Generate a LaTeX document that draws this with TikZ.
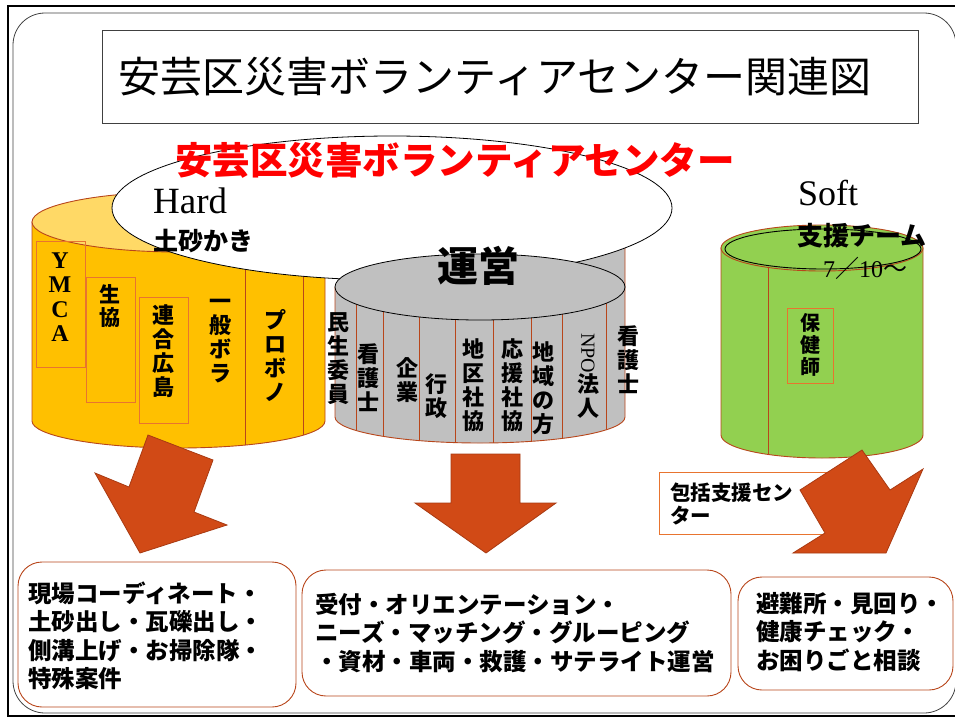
\documentclass[tikz,border=0pt]{standalone}
\usepackage{fontspec}
\setmainfont{Liberation Serif}
\newfontfamily\jp{Noto Sans CJK JP}
\usetikzlibrary{shapes.geometric}
\definecolor{rb}{HTML}{B8461B}
\definecolor{orng}{HTML}{E8742F}
\definecolor{arrowc}{HTML}{D14A16}
\definecolor{arrowline}{HTML}{A83A12}
\definecolor{yel}{HTML}{FFC000}
\definecolor{yeltop}{HTML}{FFD966}
\definecolor{grn}{HTML}{92D050}
\definecolor{gry}{HTML}{C0C0C0}
\definecolor{redtxt}{HTML}{FF0000}
\tikzset{
  vtext/.style={font=\jp\bfseries\fontsize{22}{24}\selectfont, align=center, inner sep=0pt},
  orbox/.style={draw=orng, line width=0.8pt, inner sep=0pt},
  divline/.style={draw=rb, line width=1pt},
  blockarrow/.style={fill=arrowc, draw=arrowline, line width=0.8pt, line join=miter},
  resbox/.style={draw=rb, line width=0.9pt, fill=white, rounded corners=24pt, inner sep=0pt},
  btext/.style={font=\jp\bfseries\fontsize{23.5}{28.5}\selectfont, align=left, anchor=west, inner sep=0pt}
}
\begin{document}
\begin{tikzpicture}[x=1pt,y=-1pt]
\useasboundingbox (0,0) rectangle (955,720);
\clip (0,0) rectangle (955,720);
% frame
\draw[line width=2.5pt] (8,6) rectangle (980,716);
\draw[line width=0.8pt, draw=black!75, rounded corners=32pt] (13,13) rectangle (956,713);
% title
\node[draw=black!75, line width=0.8pt, minimum width=816pt, minimum height=93pt, inner sep=0pt] (titlebox) at (510,76.5) {};
\node[font=\jp\fontsize{42}{42}\selectfont, inner sep=0pt] (title) at (495,77) {安芸区災害ボランティアセンター関連図};

% yellow cylinder
\path[fill=yel, draw=rb, line width=0.9pt] (32,222) -- (32,421) arc[start angle=180, end angle=0, x radius=146.5, y radius=27] -- (325,222) -- cycle;
\begin{scope}
\clip (32,222) -- (32,421) arc[start angle=180, end angle=0, x radius=146.5, y radius=27] -- (325,222) -- cycle;
\draw[divline] (245,250) -- (245,470);
\draw[divline] (303,250) -- (303,470);
\end{scope}
\draw[fill=yeltop, draw=rb, line width=0.9pt] (178.5,222) ellipse[x radius=146.5, y radius=30];
\node[orbox, minimum width=49pt, minimum height=126pt] (ymcabox) at (60.5,304) {};
\node[orbox, minimum width=49pt, minimum height=125pt] (seikyobox) at (110.5,339.5) {};
\node[orbox, minimum width=49pt, minimum height=126pt] (rengobox) at (163.5,360) {};
\node[vtext, font=\bfseries\fontsize{24}{24.5}\selectfont] (ymca) at (60,297) {Y\\M\\C\\A};
\node[vtext, font=\jp\bfseries\fontsize{21}{23}\selectfont] (seikyo) at (110,306) {生\\協};
\node[vtext] (rengo) at (163,351) {連\\合\\広\\島};
\node[vtext] (ippan) at (220,341) {一\\般\\ボ\\ラ};
\node[vtext] (probono) at (275,356) {プ\\ロ\\ボ\\ノ};

% gray cylinder body
\path[fill=gry, draw=rb, line width=0.9pt] (335,287) -- (335,417) arc[start angle=180, end angle=0, x radius=145, y radius=26] -- (625,240) -- (480,240) -- (480,287) -- cycle;
\begin{scope}
\clip (335,287) -- (335,417) arc[start angle=180, end angle=0, x radius=145, y radius=26] -- (625,240) -- (335,240) -- cycle;
\foreach \xx in {356,383,419,455,493,531,562,606} {
  \draw[divline] (\xx,280) -- (\xx,460);
}
\end{scope}
\node[vtext] (minsei) at (338,359) {民\\生\\委\\員};
\node[vtext] (kango1) at (368,378) {看\\護\\士};
\node[vtext] (kigyo) at (407,380) {企\\業};
\node[vtext] (gyosei) at (436,396) {行\\政};
\node[vtext] (chiku) at (473,385) {地\\区\\社\\協};
\node[vtext] (ouen) at (512,385) {応\\援\\社\\協};
\node[vtext] (chiiki) at (543,388) {地\\域\\の\\方};
\node[vtext] (npo) at (588,376) {\rotatebox{-90}{\rmfamily\mdseries\fontsize{20}{20}\selectfont NPO}\\法\\人};
\node[vtext] (kango2) at (628,360) {看\\護\\士};

% white ellipse (Hard)
\node[ellipse, draw=black, line width=0.8pt, fill=white, minimum width=560pt, minimum height=144pt, inner sep=0pt] (hardell) at (392,208) {};
\node[anchor=base west, font=\fontsize{37}{37}\selectfont, inner sep=0pt] (hard) at (153,213) {Hard};
\node[font=\jp\bfseries\fontsize{25}{25}\selectfont, inner sep=0pt] (dosha) at (203,241) {土砂かき};
\node[font=\jp\bfseries\fontsize{37.5}{37.5}\selectfont, text=redtxt, inner sep=0pt] (redtitle) at (455,160) {安芸区災害ボランティアセンター};

% gray top ellipse
\node[ellipse, draw=black, line width=0.8pt, fill=gry, minimum width=290pt, minimum height=66pt, inner sep=0pt] (unei) at (480,287) {};
\node[font=\jp\bfseries\fontsize{41}{41}\selectfont, inner sep=0pt] (uneitxt) at (478,266) {運営};

% green cylinder
\path[fill=grn, draw=rb, line width=0.9pt] (721,248) -- (721,435) arc[start angle=180, end angle=0, x radius=101, y radius=23] -- (923,248) -- cycle;
\begin{scope}
\clip (721,248) -- (721,435) arc[start angle=180, end angle=0, x radius=101, y radius=23] -- (923,248) -- cycle;
\draw[divline] (768,250) -- (768,470);
\end{scope}
\draw[fill=grn, draw=rb, line width=0.9pt] (822,248) ellipse[x radius=101, y radius=23];
\draw[draw=black, line width=0.9pt] (823,249) ellipse[x radius=98, y radius=20];
\node[orbox, minimum width=46pt, minimum height=75pt] (hokenbox) at (810,345.5) {};
\node[vtext, font=\jp\bfseries\fontsize{20}{22}\selectfont] (hoken) at (810,345) {保\\健\\師};
\node[anchor=base west, font=\fontsize{36}{36}\selectfont, inner sep=0pt] (soft) at (798,205) {Soft};
\node[font=\jp\bfseries\fontsize{26}{26}\selectfont, inner sep=0pt] (shien) at (862,236) {支援チーム};
\node[anchor=west, font=\fontsize{24}{24}\selectfont, inner sep=0pt] (date) at (823,268) {7{\jp ／}10{\jp ～}};

% houkatsu box
\node[draw=orng, line width=0.9pt, fill=white, minimum width=171pt, minimum height=62pt, inner sep=0pt] (houkatsubox) at (744.5,503) {};
\node[anchor=west, align=left, font=\jp\bfseries\fontsize{20.5}{22.5}\selectfont, inner sep=0pt] (houkatsu) at (670,504) {包括支援セン\\ター};

% arrows
\path[blockarrow] (148,435) -- (213,460) -- (194,512) -- (227,525) -- (140,553) -- (95,473) -- (129,487) -- cycle;
\path[blockarrow] (451,454) -- (520,454) -- (520,503) -- (556,503) -- (486,553) -- (415,503) -- (451,503) -- cycle;
\path[blockarrow] (862,450) -- (890,490) -- (923,469) -- (886,553) -- (793,553) -- (825,533) -- (800,490) -- cycle;

% result boxes
\node[resbox, minimum width=278pt, minimum height=145pt] (box1) at (157,634.5) {};
\node[resbox, minimum width=429pt, minimum height=126pt] (box2) at (516.5,633) {};
\node[resbox, minimum width=215pt, minimum height=113pt] (box3) at (845.5,633.5) {};
\node[btext] (txt1) at (28,636) {現場コーディネート・\\土砂出し・瓦礫出し・\\側溝上げ・お掃除隊・\\特殊案件};
\node[btext] (txt2) at (315,633) {受付・オリエンテーション・\\ニーズ・マッチング・グルーピング\\・資材・車両・救護・サテライト運営};
\node[btext] (txt3) at (756,632) {避難所・見回り・\\健康チェック・\\お困りごと相談};
\end{tikzpicture}
\end{document}
